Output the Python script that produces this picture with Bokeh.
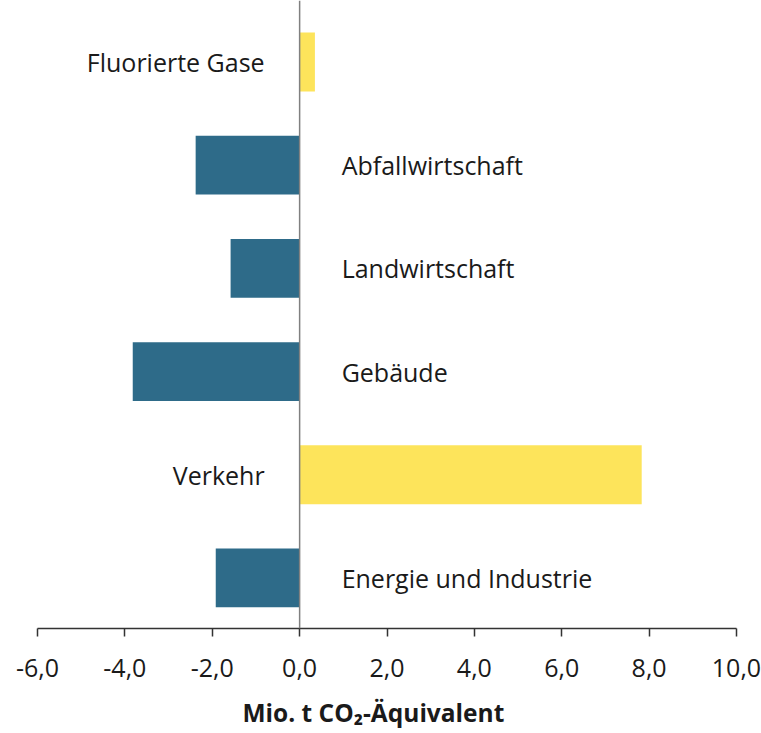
from bokeh.plotting import figure
from bokeh.models import ColumnDataSource, Range1d, FixedTicker, Span, Title
from bokeh.core.properties import value
from bokeh.embed import file_html
from bokeh.resources import INLINE

# data (bottom to top)
categories = ["Energie und Industrie", "Verkehr", "Gebäude", "Landwirtschaft",
              "Abfallwirtschaft", "Fluorierte Gase"]
values = [-1.92, 7.83, -3.82, -1.58, -2.38, 0.35]
tick_values = [-6, -4, -2, 0, 2, 4, 6, 8, 10]
tick_labels = ["-6,0", "-4,0", "-2,0", "0,0", "2,0", "4,0", "6,0", "8,0", "10,0"]
axis_title = "Mio. t CO\u2082-Äquivalent"

BLUE = "#2e6b89"
YELLOW = "#fde45b"
FONT = "Open Sans"
TXT = "#1a1a1a"

idx = list(range(len(categories)))
src = ColumnDataSource(dict(
    y=idx,
    v=values,
    cat=categories,
    zero=[0] * len(values),
    color=[BLUE if v < 0 else YELLOW for v in values],
    align=["left" if v < 0 else "right" for v in values],
    xoff=[42 if v < 0 else -35 for v in values],
))

p = figure(output_backend="svg", toolbar_location=None,
           frame_width=699, frame_height=628,
           min_border_left=37, min_border_right=25, min_border_top=0,
           min_border_bottom=0,
           x_range=Range1d(-6, 10), y_range=Range1d(-0.49, 5.596),
           y_axis_location=None, x_axis_location="below")

p.hbar(y="y", left="zero", right="v", height=0.57, color="color",
       line_color=None, source=src)

p.text(x="zero", y="y", text="cat", x_offset="xoff", text_align="align",
       text_baseline="middle", text_font=value(FONT), text_font_size="25px",
       text_color=TXT, source=src)

p.add_layout(Span(location=0, dimension="height", line_color="#808080",
                  line_width=1.5))

ax = p.xaxis[0]
ax.ticker = FixedTicker(ticks=tick_values)
ax.major_label_overrides = {t: l for t, l in zip(tick_values, tick_labels)}
ax.major_label_text_font = FONT
ax.major_label_text_font_size = "25px"
ax.major_label_text_color = TXT
ax.major_label_standoff = 22
ax.axis_line_color = "#333333"
ax.axis_line_width = 1.5
ax.major_tick_line_color = "#333333"
ax.major_tick_line_width = 1.5
ax.major_tick_out = 8
ax.major_tick_in = 0
ax.minor_tick_line_color = None

p.add_layout(Title(text=axis_title, align="left", offset=205, standoff=29,
                   text_font=FONT, text_font_style="bold",
                   text_font_size="24.5px", text_color=TXT), "below")

p.xgrid.grid_line_color = None
p.ygrid.grid_line_color = None
p.outline_line_color = None
p.background_fill_color = "white"
p.border_fill_color = "white"

open("out.html", "w").write(file_html(p, INLINE))
